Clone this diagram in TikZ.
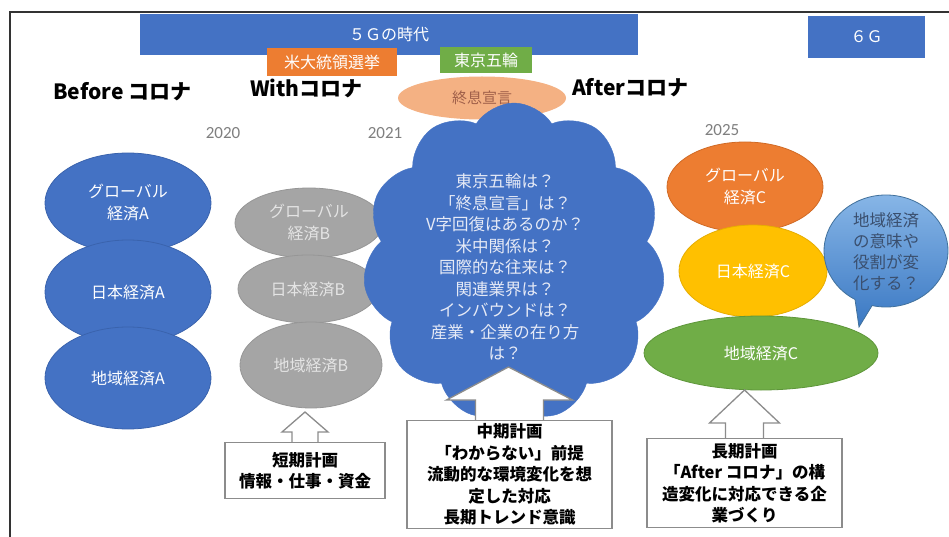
\documentclass[tikz,border=0pt]{standalone}
\usepackage{fontspec}
\setmainfont{Noto Sans CJK JP}
\newfontfamily\yearfont{Carlito}
\usetikzlibrary{shapes.geometric,shapes.symbols,calc}
\definecolor{oblue}{HTML}{4472C4}
\definecolor{oblueD}{HTML}{3A63AD}
\definecolor{ogray}{HTML}{A5A5A5}
\definecolor{ograyD}{HTML}{969696}
\definecolor{grayTxt}{HTML}{E4E4E4}
\definecolor{oorange}{HTML}{ED7D31}
\definecolor{oorangeD}{HTML}{D06A25}
\definecolor{ogreen}{HTML}{70AD47}
\definecolor{ogreenD}{HTML}{5E963A}
\definecolor{oyellow}{HTML}{FFC000}
\definecolor{oyellowD}{HTML}{E6AD00}
\definecolor{salmon}{HTML}{F4B183}
\definecolor{salmonTxt}{HTML}{A0604A}
\definecolor{boxgray}{HTML}{8C8C8C}
\definecolor{yeargray}{HTML}{7F7F7F}
\definecolor{bubTop}{HTML}{8AB8E8}
\definecolor{bubBot}{HTML}{3A78C3}
\definecolor{bubLine}{HTML}{41719C}
\definecolor{bubTxt}{HTML}{3A4F6E}
\definecolor{cloudTxt}{HTML}{E6EAF6}
\begin{document}
\begin{tikzpicture}[x=1pt,y=-1pt,
  ell/.style={ellipse,inner sep=0pt,align=center,text=white,line width=0.8pt,font=\fontsize{16}{22}\selectfont},
  blueell/.style={ell,fill=oblue,draw=oblueD},
  grayell/.style={ell,fill=ogray,draw=ograyD,text=grayTxt},
  bar/.style={rectangle,inner sep=0pt,fill=oblue,text=white,font=\fontsize{16}{20}\selectfont},
  tag/.style={rectangle,inner sep=0pt,text=white,font=\fontsize{16}{20}\selectfont},
  era/.style={inner sep=0pt,font=\bfseries\fontsize{21}{24}\selectfont},
  yearlbl/.style={inner sep=0pt,text=yeargray,font=\yearfont\fontsize{17}{20}\selectfont},
  planbox/.style={rectangle,draw=boxgray,fill=white,line width=1.3pt,inner sep=0pt,align=center,font=\bfseries\fontsize{16.5}{21.5}\selectfont},
  blockarrow/.style={fill=white,draw=boxgray,line width=1.3pt,line join=miter}
]
\useasboundingbox (0,0) rectangle (949,537);
\fill[white] (0,0) rectangle (949,537);
% frame
\draw[line width=1.8pt,black!80] (10,537) -- (10,12) -- (949,12);

% top bars
\node[bar,minimum width=498,minimum height=41] (g5) at (389,34.5) {５Ｇの時代};
\node[bar,minimum width=117,minimum height=42] (g6) at (866.5,37) {６Ｇ};
\node[tag,fill=oorange,minimum width=130,minimum height=28] (elec) at (332,62) {米大統領選挙};
\node[tag,fill=ogreen,minimum width=92,minimum height=26] (oly) at (486,60) {東京五輪};
\node[ellipse,inner sep=0pt,fill=salmon,minimum width=168,minimum height=43,text=salmonTxt,font=\fontsize{15}{18}\selectfont] (end) at (482,98) {終息宣言};

% era labels
\node[era,anchor=west] (before) at (53,92) {Before コロナ};
\node[era,anchor=west] (with) at (250,88) {Withコロナ};
\node[era,anchor=west] (after) at (572,88) {Afterコロナ};

% years
\node[yearlbl] (y2020) at (223,133) {2020};
\node[yearlbl] (y2021) at (385,133) {2021};
\node[yearlbl] (y2025) at (722,130) {2025};

% A ellipses
\node[blueell,minimum width=166,minimum height=100] (gA) at (128,203) {グローバル\\経済A};
\node[blueell,minimum width=166,minimum height=104] (jA) at (128,292) {日本経済A};
\node[blueell,minimum width=166,minimum height=102] (lA) at (128,378) {地域経済A};

% B ellipses
\node[grayell,minimum width=148,minimum height=70] (gB) at (309,223) {グローバル\\経済B};
\node[grayell,minimum width=140,minimum height=68] (jB) at (308,289) {日本経済B};
\node[grayell,minimum width=142,minimum height=86] (lB) at (311,365) {地域経済B};

% cloud
\node[cloud,cloud puffs=11,cloud puff arc=115,aspect=0.95,minimum width=302,minimum height=318,fill=oblue,draw=oblue,inner sep=0pt] (cloud) at (514,262) {};
\node[align=center,text=cloudTxt,inner sep=0pt,font=\fontsize{16.5}{21.5}\selectfont] (qs) at (505,267)
 {東京五輪は？\\「終息宣言」は？\\V字回復はあるのか？\\米中関係は？\\国際的な往来は？\\関連業界は？\\インバウンドは？\\産業・企業の在り方\\は？};

% C ellipses
\node[ell,fill=oorange,draw=oorangeD,minimum width=156,minimum height=90] (gC) at (745,187) {グローバル\\経済C};
\node[ell,fill=oyellow,draw=oyellowD,minimum width=148,minimum height=92] (jC) at (753,271) {日本経済C};
\node[ell,fill=ogreen,draw=ogreenD,minimum width=234,minimum height=74] (lC) at (761,353) {地域経済C};

% speech bubble
\path[top color=bubTop,bottom color=bubBot,draw=bubLine,line width=0.8pt]
  ([shift={(886,251)}]120:62 and 56) -- (859,327) -- ([shift={(886,251)}]103:62 and 56)
  arc[start angle=103,end angle=-240,x radius=62,y radius=56] -- cycle;
\node[align=center,text=bubTxt,inner sep=0pt,font=\fontsize{16.5}{21}\selectfont] (bub) at (886,252) {地域経済\\の意味や\\役割が変\\化する？};

% plan boxes
\coordinate (sN) at (305,442);
\coordinate (mN) at (509.5,420);
\coordinate (lN) at (744.5,438);
\draw[blockarrow] ($(sN)+(-13,2)$) -- ($(sN)+(-13,-10)$) -- ($(sN)+(-23,-10)$) -- ($(sN)+(0,-30)$) -- ($(sN)+(23,-10)$) -- ($(sN)+(13,-10)$) -- ($(sN)+(13,2)$);
\draw[blockarrow] ($(mN)+(-34,2)$) -- ($(mN)+(-34,-20)$) -- ($(mN)+(-63,-20)$) -- ($(mN)+(-1,-53)$) -- ($(mN)+(63,-20)$) -- ($(mN)+(34,-20)$) -- ($(mN)+(34,2)$);
\draw[blockarrow] ($(lN)+(-19,2)$) -- ($(lN)+(-19,-15)$) -- ($(lN)+(-35,-15)$) -- ($(lN)+(0,-48)$) -- ($(lN)+(35,-15)$) -- ($(lN)+(19,-15)$) -- ($(lN)+(19,2)$);

\node[planbox,minimum width=160,minimum height=56,anchor=north] (boxS) at (sN) {短期計画\\情報・仕事・資金};
\node[planbox,minimum width=205,minimum height=108,anchor=north] (boxM) at (mN) {中期計画\\「わからない」前提\\流動的な環境変化を想\\定した対応\\長期トレンド意識};
\node[planbox,minimum width=195,minimum height=89,anchor=north] (boxL) at (lN) {長期計画\\「After コロナ」の構\\造変化に対応できる企\\業づくり};
\end{tikzpicture}
\end{document}
